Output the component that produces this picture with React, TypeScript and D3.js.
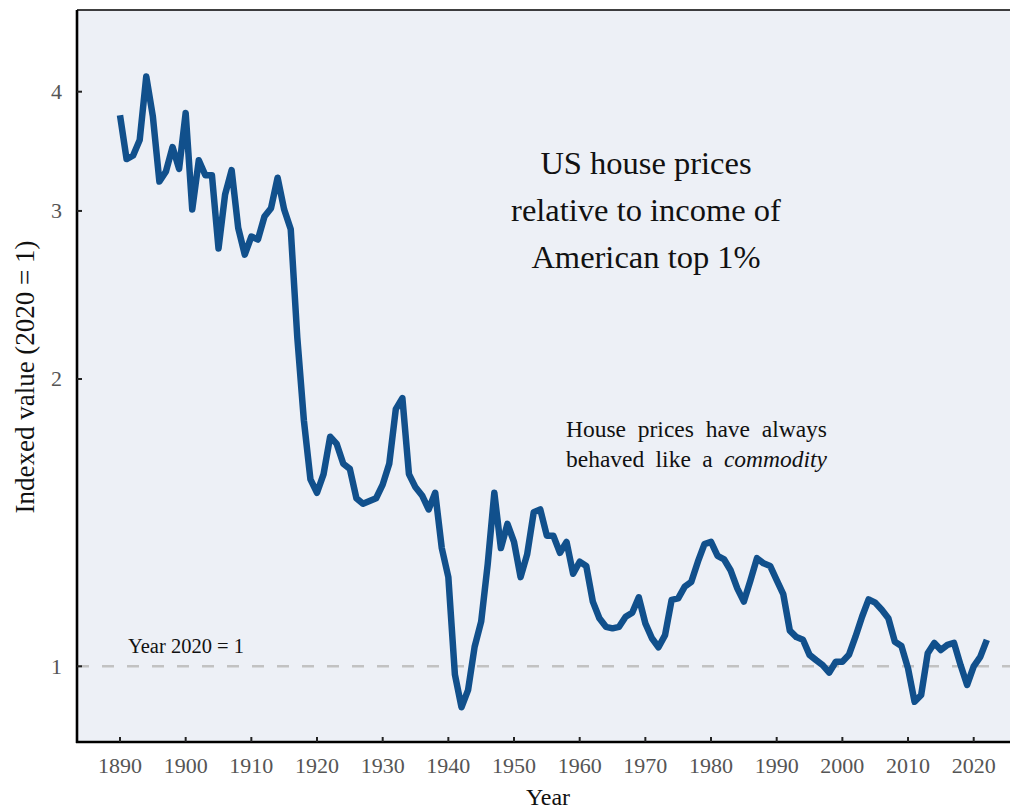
import { useEffect, useRef } from "react"
import * as d3 from "d3"

// Indexed value (2020 = 1), one value per year from 1890 to 2022
const firstYear = 1890
const values = [
  3.78, 3.4, 3.43, 3.56, 4.15, 3.77, 3.22, 3.3, 3.5, 3.32,
  3.8, 3.01, 3.39, 3.27, 3.27, 2.74, 3.12, 3.31, 2.88, 2.7,
  2.82, 2.8, 2.96, 3.02, 3.25, 3.01, 2.87, 2.21, 1.81, 1.57,
  1.52, 1.59, 1.74, 1.71, 1.63, 1.61, 1.5, 1.48, 1.49, 1.5,
  1.55, 1.63, 1.86, 1.91, 1.59, 1.54, 1.51, 1.46, 1.52, 1.33,
  1.24, 0.98, 0.906, 0.944, 1.048, 1.114, 1.28, 1.52, 1.33, 1.41,
  1.35, 1.24, 1.31, 1.45, 1.46, 1.37, 1.37, 1.315, 1.35, 1.25,
  1.287, 1.274, 1.169, 1.123, 1.1, 1.096, 1.1, 1.127, 1.138, 1.181,
  1.109, 1.07, 1.047, 1.078, 1.174, 1.178, 1.212, 1.226, 1.287, 1.343,
  1.35, 1.305, 1.294, 1.26, 1.207, 1.169, 1.23, 1.298, 1.282, 1.274,
  1.231, 1.19, 1.09, 1.073, 1.066, 1.028, 1.015, 1.003, 0.985, 1.011,
  1.011, 1.028, 1.074, 1.127, 1.175, 1.166, 1.146, 1.123, 1.061, 1.05,
  0.995, 0.918, 0.933, 1.032, 1.058, 1.04, 1.053, 1.058, 1.003, 0.956,
  1.0, 1.023, 1.066,
]
const xTicks = [1890, 1900, 1910, 1920, 1930, 1940, 1950, 1960, 1970, 1980, 1990, 2000, 2010, 2020]
const yTicks = [1, 2, 3, 4]
const titleLines = ["US house prices", "relative to income of", "American top 1%"]

export default function App() {
  const svgRef = useRef<SVGSVGElement>(null)

  useEffect(() => {
    if (!svgRef.current) return
    const svg = d3.select(svgRef.current)
    svg.selectAll("*").remove()

    const width = 1010
    const height = 809
    const plot = { left: 77, right: 1010, top: 10, bottom: 742 }
    const font = "'Liberation Serif', 'Times New Roman', serif"

    const x = d3.scaleLinear().domain([1890, 2020]).range([120, 973.7])
    const y = d3.scaleLog().domain([1, 4]).range([666.3, 91.7])

    svg.attr("width", width).attr("height", height)

    // plot background
    svg
      .append("rect")
      .attr("x", plot.left)
      .attr("y", plot.top)
      .attr("width", plot.right - plot.left)
      .attr("height", plot.bottom - plot.top)
      .attr("fill", "#edf0f6")

    // reference line at 1
    svg
      .append("line")
      .attr("x1", plot.left)
      .attr("x2", plot.right)
      .attr("y1", y(1))
      .attr("y2", y(1))
      .attr("stroke", "#c2c2c2")
      .attr("stroke-width", 2.5)
      .attr("stroke-dasharray", "12,13")

    svg
      .append("text")
      .attr("x", 128)
      .attr("y", 653)
      .style("font-family", font)
      .style("font-size", "20.5px")
      .attr("fill", "#111")
      .text("Year 2020 = 1")

    // data line
    const data = values.map((v, i) => ({ year: firstYear + i, value: v }))
    const line = d3
      .line<{ year: number; value: number }>()
      .x((d) => x(d.year))
      .y((d) => y(d.value))

    svg
      .append("path")
      .datum(data)
      .attr("d", line)
      .attr("fill", "none")
      .attr("stroke", "#11508c")
      .attr("stroke-width", 6.5)
      .attr("stroke-linejoin", "round")

    // spines
    svg
      .append("line")
      .attr("x1", plot.left)
      .attr("x2", plot.left)
      .attr("y1", plot.top)
      .attr("y2", plot.bottom + 1)
      .attr("stroke", "#000")
      .attr("stroke-width", 2.6)
    svg
      .append("line")
      .attr("x1", plot.left - 1)
      .attr("x2", plot.right)
      .attr("y1", plot.bottom)
      .attr("y2", plot.bottom)
      .attr("stroke", "#000")
      .attr("stroke-width", 2.6)
    svg
      .append("line")
      .attr("x1", plot.left)
      .attr("x2", plot.right)
      .attr("y1", plot.top)
      .attr("y2", plot.top)
      .attr("stroke", "#000")
      .attr("stroke-width", 1.5)

    // x ticks
    svg
      .selectAll(".xtick")
      .data(xTicks)
      .join("line")
      .attr("x1", (d) => x(d))
      .attr("x2", (d) => x(d))
      .attr("y1", plot.bottom)
      .attr("y2", plot.bottom - 5)
      .attr("stroke", "#222")
      .attr("stroke-width", 2)
    svg
      .selectAll(".xlabel")
      .data(xTicks)
      .join("text")
      .attr("x", (d) => x(d))
      .attr("y", 773)
      .attr("text-anchor", "middle")
      .style("font-family", font)
      .style("font-size", "22px")
      .attr("fill", "#555")
      .text((d) => d)

    // y ticks
    svg
      .selectAll(".ytick")
      .data(yTicks)
      .join("line")
      .attr("x1", plot.left)
      .attr("x2", plot.left + 5)
      .attr("y1", (d) => y(d))
      .attr("y2", (d) => y(d))
      .attr("stroke", "#222")
      .attr("stroke-width", 2)
    svg
      .selectAll(".ylabel")
      .data(yTicks)
      .join("text")
      .attr("x", 62)
      .attr("y", (d) => y(d))
      .attr("dy", "0.34em")
      .attr("text-anchor", "end")
      .style("font-family", font)
      .style("font-size", "22px")
      .attr("fill", "#555")
      .text((d) => d)

    // axis titles
    svg
      .append("text")
      .attr("transform", "translate(34,377) rotate(-90)")
      .attr("text-anchor", "middle")
      .style("font-family", font)
      .style("font-size", "27px")
      .attr("fill", "#111")
      .text("Indexed value (2020 = 1)")
    svg
      .append("text")
      .attr("x", 548)
      .attr("y", 805)
      .attr("text-anchor", "middle")
      .style("font-family", font)
      .style("font-size", "24px")
      .attr("fill", "#111")
      .text("Year")

    // chart title
    svg
      .selectAll(".title")
      .data(titleLines)
      .join("text")
      .attr("x", 646)
      .attr("y", (_, i) => 174 + i * 47.2)
      .attr("text-anchor", "middle")
      .style("font-family", font)
      .style("font-size", "32.5px")
      .attr("fill", "#111")
      .text((d) => d)

    // justified annotation
    const noteLeft = 566
    const noteWidth = 261
    const note1 = svg
      .append("text")
      .attr("x", noteLeft)
      .attr("y", 437.3)
      .style("font-family", font)
      .style("font-size", "23.5px")
      .attr("fill", "#111")
      .text("House prices have always")
    const note2 = svg
      .append("text")
      .attr("x", noteLeft)
      .attr("y", 466.7)
      .style("font-family", font)
      .style("font-size", "23.5px")
      .attr("fill", "#111")
    note2.append("tspan").text("behaved like a ")
    note2.append("tspan").style("font-style", "italic").text("commodity")
    ;[note1, note2].forEach((t) => {
      const node = t.node() as SVGTextElement
      const w = node.getComputedTextLength()
      t.attr("word-spacing", Math.max(0, (noteWidth - w) / 3))
    })
  }, [])

  return (
    <svg
      ref={svgRef}
      style={{ position: "absolute", left: 0, top: 0, display: "block" }}
    ></svg>
  )
}
